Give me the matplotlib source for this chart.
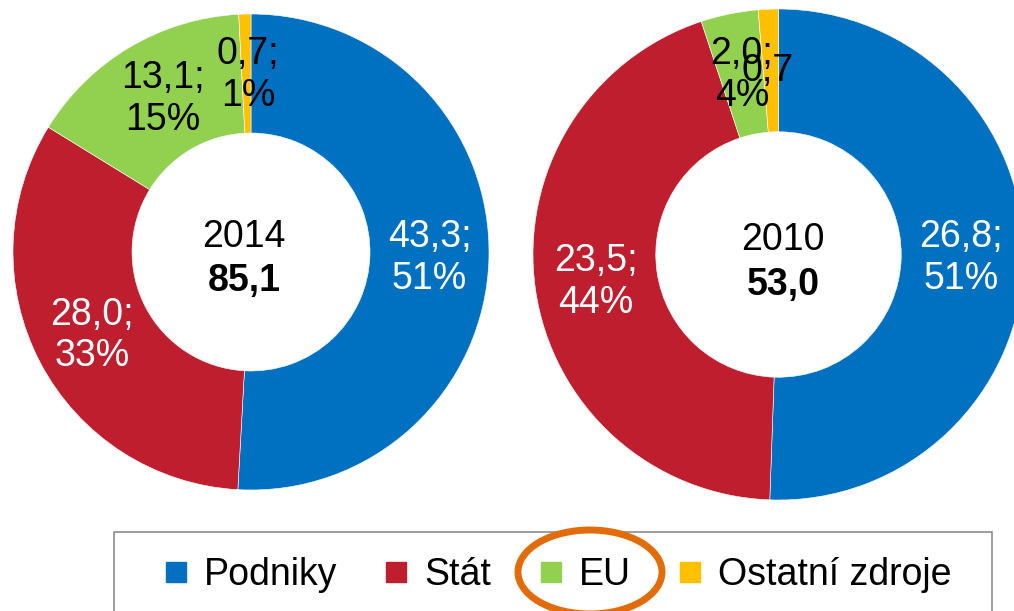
import matplotlib
matplotlib.use("Agg")
import matplotlib.pyplot as plt
from matplotlib.lines import Line2D
from matplotlib.patches import Ellipse, Rectangle

plt.rcParams['font.family'] = ['Liberation Sans', 'DejaVu Sans']

# --------------------------
# data
# --------------------------
sources = ["Podniky", "Stát", "EU", "Ostatní zdroje"]
colors = ["#0070C0", "#BE1E2D", "#92D050", "#FFC000"]

year_2014 = "2014"
values_2014 = [43.3, 28.0, 13.1, 0.7]
year_2010 = "2010"
values_2010 = [26.8, 23.5, 2.0, 0.7]

# label text colours and whether the percentage line is visible
label_colors = ["white", "white", "black", "black"]
show_pct_2014 = [True, True, True, True]
show_pct_2010 = [True, True, True, False]

# label positions (unit circle coordinates)
pos_2014 = [(0.75, -0.025), (-0.668, -0.35), (-0.37, 0.643), (-0.013, 0.744)]
pos_2010 = [(0.743, -0.014), (-0.743, -0.112), (-0.149, 0.731), (-0.043, 0.747)]

W, H = 1014, 611
FS = 27


def cz(v):
    return f"{v:.1f}".replace(".", ",")


def donut(cx, cy, r, year, values, positions, show_pct, cdx):
    ax = fig.add_axes([(cx - r) / W, (H - cy - r) / H, 2 * r / W, 2 * r / H])
    ax.pie(values, colors=colors, startangle=90, counterclock=False, radius=1,
           wedgeprops=dict(width=0.5, edgecolor="white", linewidth=0.4))
    ax.set_xlim(-1, 1)
    ax.set_ylim(-1, 1)
    total = sum(values)
    for v, (x, y), c, sp in zip(values, positions, label_colors, show_pct):
        txt = cz(v)
        if sp:
            txt += ";\n" + f"{round(100 * v / total):.0f}%"
        ax.text(x, y, txt, ha="center", va="center", color=c, fontsize=FS,
                linespacing=1.2, multialignment="center")
    ax.text(cdx, 0.02, year, ha="center", va="baseline", fontsize=FS)
    ax.text(cdx, -0.165, cz(total), ha="center", va="baseline", fontsize=FS,
            fontweight="bold")
    return ax


fig = plt.figure(figsize=(W / 100, H / 100), dpi=100)

donut(251, 252, 238, year_2014, values_2014, pos_2014, show_pct_2014, -0.03)
donut(778.5, 254.5, 245.5, year_2010, values_2010, pos_2010, show_pct_2010, 0.018)

# legend box (runs off the bottom edge)
fig.add_artist(Rectangle((114 / W, -0.05), (992 - 114) / W, (H - 532) / H + 0.05,
                         transform=fig.transFigure, fill=False,
                         edgecolor="#8c8c8c", linewidth=1.2))

handles = [Line2D([], [], ls="", marker="s", ms=14, mfc=c, mec=c) for c in colors]
fig.legend(handles, sources, loc="center", bbox_to_anchor=(558 / W, 1 - 575 / H),
           ncol=4, frameon=False, fontsize=FS, handlelength=0.6,
           handletextpad=0.45, columnspacing=1.28, borderpad=0)

# orange highlight round "EU"
fig.add_artist(Ellipse((590 / W, 1 - 572 / H), 144 / W, 84 / H,
                       transform=fig.transFigure, fill=False,
                       edgecolor="#E36C0A", linewidth=5))

fig.savefig("out.png", dpi=100)
